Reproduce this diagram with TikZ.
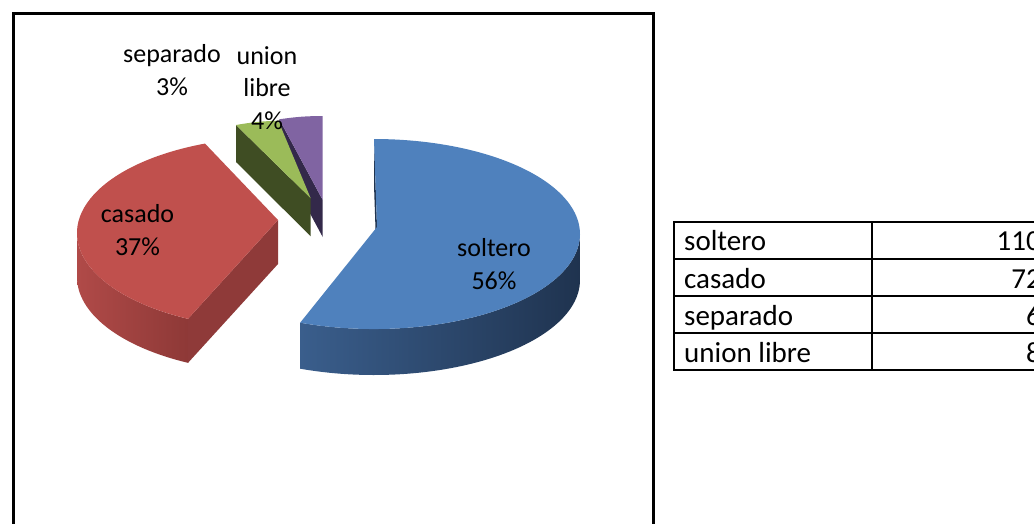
\documentclass[tikz,border=0pt]{standalone}
\usepackage{fontspec}
\setmainfont{Carlito}
\usetikzlibrary{calc}
\usetikzlibrary{positioning}

\definecolor{soltop}{HTML}{4F81BD}
\definecolor{solleft}{HTML}{3A5E8C}
\definecolor{solmid}{HTML}{253F61}
\definecolor{solright}{HTML}{1F334F}
\definecolor{castop}{HTML}{C0504D}
\definecolor{casleft}{HTML}{B04A48}
\definecolor{casright}{HTML}{8E3937}
\definecolor{cascut}{HTML}{8F3A39}
\definecolor{septop}{HTML}{9BBB59}
\definecolor{sepdark}{HTML}{3F4D23}
\definecolor{unitop}{HTML}{8064A2}
\definecolor{unidark}{HTML}{33294A}

\begin{document}
\begin{tikzpicture}[x=1pt,y=1pt,
    lbl/.style={align=center, inner sep=0pt, font=\fontsize{26}{32.5}\selectfont},
    cell/.style={inner sep=0pt, font=\fontsize{29}{35}\selectfont}]
    \useasboundingbox (0,0) rectangle (1034,-523);

    \coordinate (frame) at (13,-13);
    \coordinate (tab) at (674,-222);

    \coordinate (solc) at (377,-227);
    \coordinate (sole) at (374,-234);
    \coordinate (casc) at (278,-220);
    \coordinate (case) at (278,-233);
    \coordinate (sepc) at (310.7,-198.3);
    \coordinate (sepa) at (236,-125);
    \coordinate (sepb) at (278.3,-120.7);
    \coordinate (unic) at (322.7,-200);
    \coordinate (unia) at (279.3,-119.3);
    \coordinate (unib) at (322.7,-116);

    \draw[line width=3pt] (frame) rectangle +(640,-540);

    % union libre
    \fill[unidark] (unia) -- (unic) -- ++(0,-37) -- ($(unia)+(0,-37)$) -- cycle;
    \fill[unitop] (unic) -- (unia) to[bend left=4] (unib) -- cycle;

    % separado
    \fill[sepdark] (sepa) -- (sepc) -- ++(0,-38) -- ($(sepa)+(0,-37)$) -- cycle;
    \fill[septop] (sepc) -- (sepa) to[bend left=4] (sepb) -- cycle;

    % casado
    \shade[left color=casleft, right color=casright] ($(case)+(180:201 and 96)$)
        arc[start angle=180, end angle=243.4, x radius=201, y radius=96] -- ++(0,-44)
        arc[start angle=243.4, end angle=180, x radius=201, y radius=96] -- cycle;
    \fill[cascut] ($(case)+(243.4:201 and 96)$) -- (casc) -- ++(0,-44)
        -- ($(case)+(243.4:201 and 96)+(0,-44)$) -- cycle;
    \fill[castop] (casc) -- ($(case)+(111.3:201 and 96)$)
        arc[start angle=111.3, end angle=243.4, x radius=201, y radius=96] -- cycle;

    % soltero
    \fill[solright] (374,-139) -- (solc) -- ++(0,-46) -- (374,-185) -- cycle;
    \shade[left color=solleft, middle color=solmid, right color=solright] ($(sole)+(-111:206 and 95)$)
        arc[start angle=-111, end angle=0, x radius=206, y radius=95] -- ++(0,-46)
        arc[start angle=0, end angle=-111, x radius=206, y radius=95] -- cycle;
    \fill[soltop] (solc) -- ($(sole)+(-111:206 and 95)$)
        arc[start angle=-111, end angle=90, x radius=206, y radius=95] -- cycle;

    \node[lbl] (lblsep) at (172,-70) {separado\\3\%};
    \node[lbl] (lbluni) at (267,-88) {union\\libre\\4\%};
    \node[lbl] (lblcas) at (137.5,-230) {casado\\37\%};
    \node[lbl] (lblsol) at (494,-264) {soltero\\56\%};

    % table
    \draw[line width=1.5pt] (tab) rectangle +(372,-148);
    \draw[line width=1.5pt] (tab)++(198,0) -- ++(0,-148);
    \draw[line width=1.5pt] (tab)++(0,-37) -- ++(372,0);
    \draw[line width=1.5pt] (tab)++(0,-74) -- ++(372,0);
    \draw[line width=1.5pt] (tab)++(0,-111) -- ++(372,0);

    \node[cell, anchor=base west] (tsol) at ($(tab)+(10,-28)$) {soltero};
    \node[cell, anchor=base west] (tcas) at ($(tab)+(10,-66)$) {casado};
    \node[cell, anchor=base west] (tsep) at ($(tab)+(10,-103)$) {separado};
    \node[cell, anchor=base west] (tuni) at ($(tab)+(10,-140)$) {union libre};
    \node[cell, anchor=base east] (nsol) at ($(tab)+(367,-28)$) {110};
    \node[cell, anchor=base east] (ncas) at ($(tab)+(367,-66)$) {72};
    \node[cell, anchor=base east] (nsep) at ($(tab)+(367,-103)$) {6};
    \node[cell, anchor=base east] (nuni) at ($(tab)+(367,-140)$) {8};
\end{tikzpicture}
\end{document}
